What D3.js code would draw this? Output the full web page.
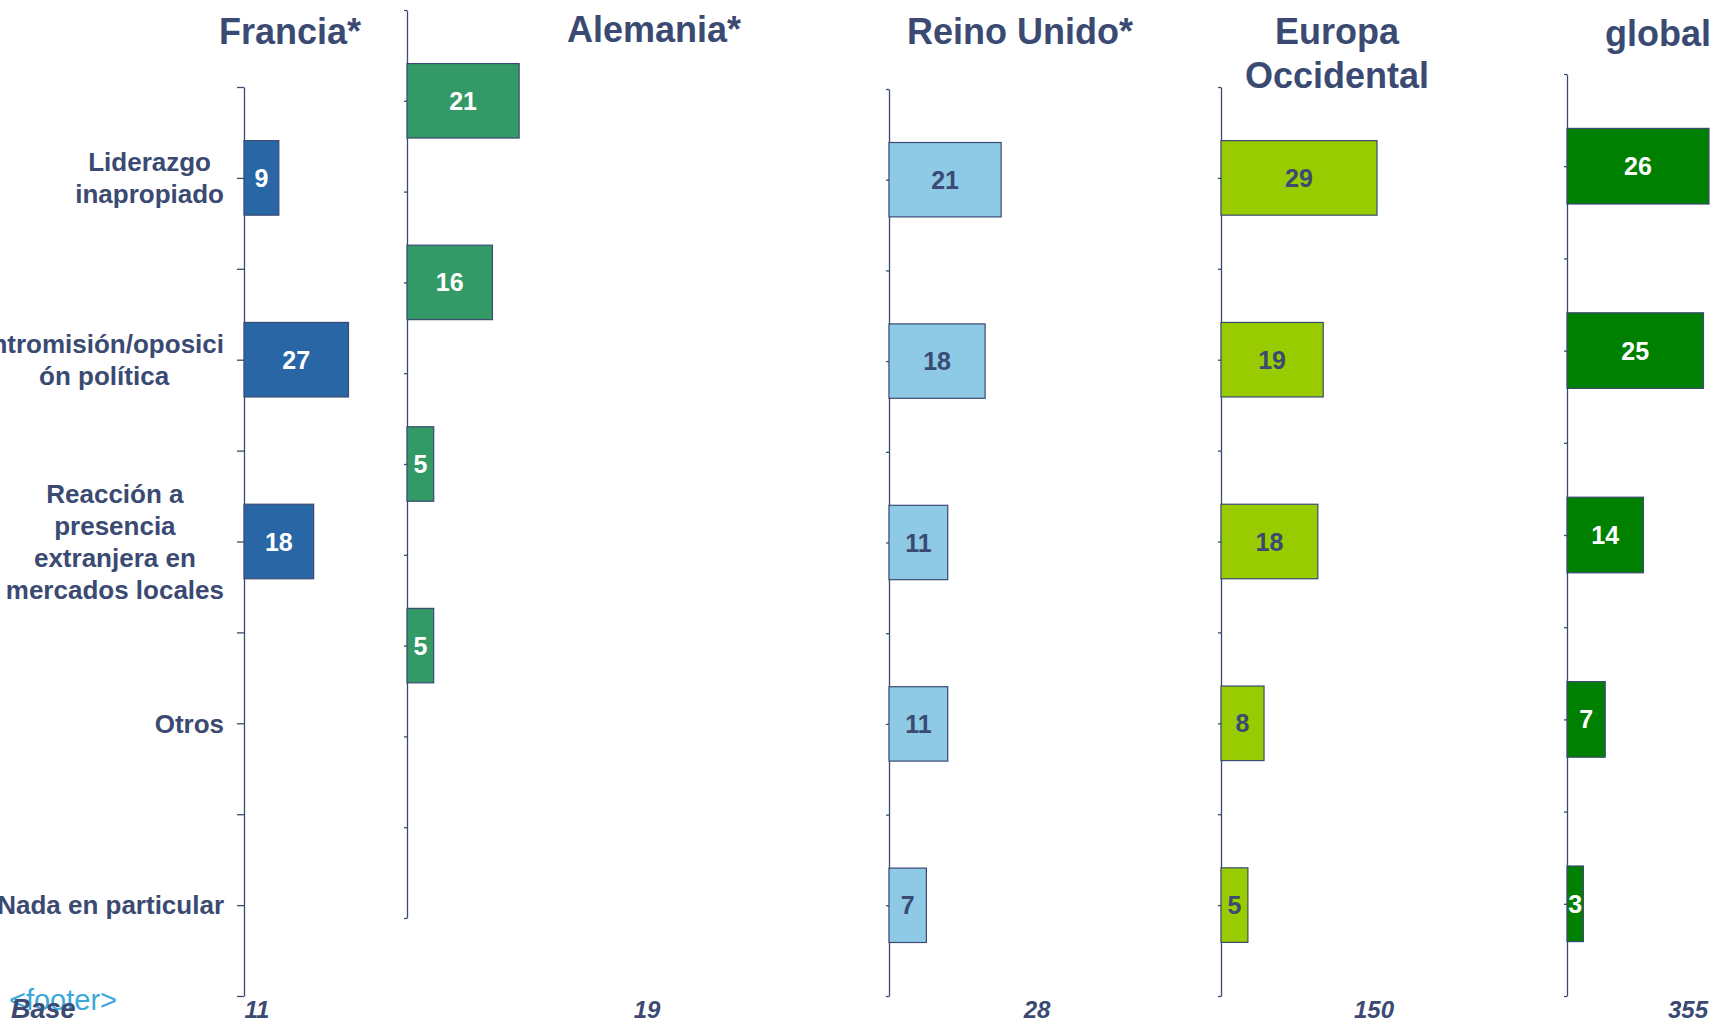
<!DOCTYPE html>
<html>
<head>
<meta charset="utf-8">
<title>Problemas por país</title>
<style>
  body { margin: 0; background: #fff; }
  svg { display: block; font-family: "Liberation Sans", Arial, sans-serif; }
  .axis path, .axis line { stroke: #3b4a72; stroke-width: 1.3; }
</style>
<script src="https://d3js.org/d3.v7.min.js"></script>
</head>
<body>
<script>
// data
var categories = ["Liderazgo inapropiado", "Intromisión/oposición política",
  "Reacción a presencia extranjera en mercados locales", "Otros", "Nada en particular"];
var categoryLines = [["Liderazgo", "inapropiado"], ["Intromisión/oposici", "ón política"],
  ["Reacción a", "presencia", "extranjera en", "mercados locales"], ["Otros"], ["Nada en particular"]];
var panelNames = [["Francia*"], ["Alemania*"], ["Reino Unido*"], ["Europa", "Occidental"], ["global"]];
var francia = [9, 27, 18, null, null];
var alemania = [21, 16, 5, 5, null];
var reinoUnido = [21, 18, 11, 11, 7];
var europaOccidental = [29, 19, 18, 8, 5];
var globalValues = [26, 25, 14, 7, 3];
var bases = [11, 19, 28, 150, 355];

var width = 1724, height = 1027;
var navy = "#3b4a72";

// layout for each panel (axis x, top/bottom, px per unit, title x, base x)
var panels = [
  { values: francia,          x: 244,  top: 87, bottom: 996, k: 3.87, fill: "#2866a6", label: "#fff", tick: 7, tx: 290,  ty: 31, bx: 257 },
  { values: alemania,         x: 407,  top: 10, bottom: 918, k: 5.34, fill: "#339966", label: "#fff", tick: 3, tx: 654,  ty: 29, bx: 647 },
  { values: reinoUnido,       x: 889,  top: 89, bottom: 996, k: 5.34, fill: "#8ecae6", label: navy,   tick: 3, tx: 1020, ty: 31, bx: 1037 },
  { values: europaOccidental, x: 1221, top: 87, bottom: 996, k: 5.38, fill: "#99cc00", label: navy,   tick: 3, tx: 1337, ty: 31, bx: 1374 },
  { values: globalValues,     x: 1567, top: 74, bottom: 996, k: 5.46, fill: "#008000", label: "#fff", tick: 3, tx: 1658, ty: 33, bx: 1688 }
];

var svg = d3.select("body").append("svg")
  .attr("width", width)
  .attr("height", height);

panels.forEach(function(p, i) {
  var y = d3.scaleBand()
    .domain(categories)
    .range([p.top, p.bottom])
    .paddingInner(0.59)
    .paddingOuter(0.295);
  var x = d3.scaleLinear().domain([0, 30]).range([p.x, p.x + 30 * p.k]);
  p.y = y;

  // ticks at band edges and band centres
  var yt = d3.scaleLinear().domain([0, categories.length]).range([p.top, p.bottom]);
  svg.append("g")
    .attr("class", "axis")
    .attr("transform", "translate(" + p.x + ",0)")
    .call(d3.axisLeft(yt)
      .tickValues(d3.range(0, categories.length + 0.25, 0.5))
      .tickSize(p.tick)
      .tickSizeOuter(0)
      .tickFormat(""));

  var rows = categories.map(function(c, j) { return { cat: c, v: p.values[j] }; })
    .filter(function(d) { return d.v != null; });

  var g = svg.append("g");
  g.selectAll("rect")
    .data(rows)
    .enter()
    .append("rect")
    .attr("x", x(0))
    .attr("y", function(d) { return y(d.cat); })
    .attr("width", function(d) { return x(d.v) - x(0); })
    .attr("height", y.bandwidth())
    .attr("fill", p.fill)
    .attr("stroke", navy)
    .attr("stroke-width", 1.2);

  g.selectAll("text")
    .data(rows)
    .enter()
    .append("text")
    .attr("x", function(d) { return (x(0) + x(d.v)) / 2; })
    .attr("y", function(d) { return y(d.cat) + y.bandwidth() / 2; })
    .attr("dy", "0.36em")
    .attr("text-anchor", "middle")
    .attr("fill", p.label)
    .attr("font-size", 25)
    .attr("font-weight", "bold")
    .text(function(d) { return d.v; });

  // panel title
  var t = svg.append("text")
    .attr("x", p.tx)
    .attr("y", p.ty)
    .attr("text-anchor", "middle")
    .attr("fill", navy)
    .attr("font-size", 36)
    .attr("font-weight", "bold");
  panelNames[i].forEach(function(line, li) {
    t.append("tspan").attr("x", p.tx).attr("dy", li === 0 ? "0.36em" : 44).text(line);
  });

  // base
  svg.append("text")
    .attr("x", p.bx)
    .attr("y", 1018)
    .attr("text-anchor", "middle")
    .attr("fill", navy)
    .attr("font-size", 24)
    .attr("font-weight", "bold")
    .attr("font-style", "italic")
    .text(bases[i]);
});

// category labels, centred lines, block right-aligned next to the France axis
var yF = panels[0].y;
var labelRight = 224, lineH = 32;
categories.forEach(function(c, j) {
  var lines = categoryLines[j];
  var t = svg.append("text")
    .attr("fill", navy)
    .attr("font-size", 26)
    .attr("font-weight", "bold")
    .attr("text-anchor", "middle");
  var spans = lines.map(function(l) { return t.append("tspan").text(l); });
  var w = d3.max(spans, function(s) { return s.node().getComputedTextLength(); });
  var cy = yF(c) + yF.bandwidth() / 2;
  spans.forEach(function(s, li) {
    s.attr("x", labelRight - w / 2)
     .attr("y", cy + (li - (lines.length - 1) / 2) * lineH)
     .attr("dy", "0.36em");
  });
});

// footer
svg.append("text")
  .attr("x", 9)
  .attr("y", 1010)
  .attr("fill", "#3ba8dc")
  .attr("font-size", 29)
  .text("<footer>");
svg.append("text")
  .attr("x", 11)
  .attr("y", 1018)
  .attr("fill", navy)
  .attr("font-size", 27)
  .attr("font-weight", "bold")
  .attr("font-style", "italic")
  .text("Base");
</script>
</body>
</html>
